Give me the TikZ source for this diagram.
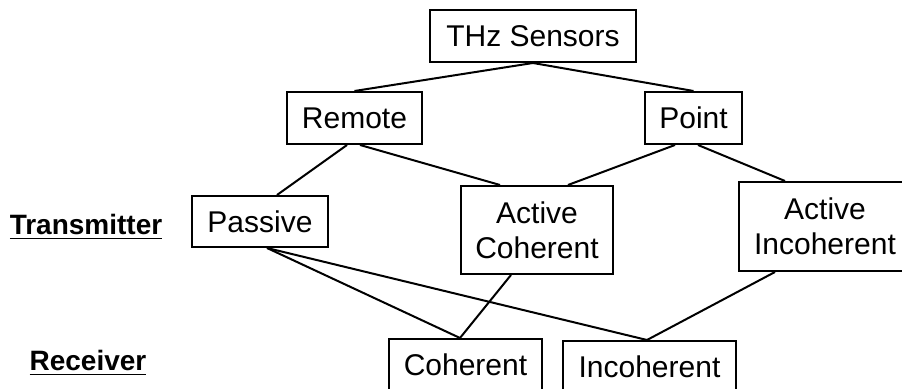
\documentclass[tikz,border=0pt]{standalone}
\usepackage{fontspec}
\setmainfont{Liberation Sans}
\begin{document}
\begin{tikzpicture}[x=0.5pt,y=-0.5pt,
  box/.style={draw=black,line width=1pt,inner sep=0pt,align=center,
    font=\fontsize{15}{17.5}\selectfont},
  link/.style={draw=black,line width=1pt},
  side/.style={anchor=base,inner sep=0pt,font=\fontsize{14}{16}\selectfont\bfseries}]
\useasboundingbox[fill=white] (0,0) rectangle (902,389);
\node[box,minimum width=103pt,minimum height=26pt] (thz) at (533,36) {THz Sensors};
\node[box,minimum width=67.5pt,minimum height=26pt] (remote) at (354.5,118) {Remote};
\node[box,minimum width=48.5pt,minimum height=26pt] (point) at (693.5,118) {Point};
\node[box,minimum width=68pt,minimum height=25.5pt] (passive) at (260,221.5) {Passive};
\node[box,minimum width=76pt,minimum height=44pt] (actcoh) at (537,230) {Active\\Coherent};
\node[box,minimum width=86pt,minimum height=44.5pt] (actinc) at (825,226.5) {Active\\Incoherent};
\node[box,minimum width=76.5pt,minimum height=26pt] (coh) at (465.5,365) {Coherent};
\node[box,minimum width=86.5pt,minimum height=26pt] (inc) at (649.5,367) {Incoherent};
\node[side] (tx) at (86,235) {\underline{Transmitter}};
\node[side] (rx) at (88,371) {\underline{Receiver}};
\draw[link] (thz.south) -- (remote.north);
\draw[link] (thz.south) -- (point.north);
\draw[link] ([xshift=-3.75pt]remote.south) -- ([xshift=8.5pt]passive.north);
\draw[link] ([xshift=2.75pt]remote.south) -- ([xshift=-18.5pt]actcoh.north);
\draw[link] ([xshift=-9.25pt]point.south) -- ([xshift=15.5pt]actcoh.north);
\draw[link] ([xshift=2.25pt]point.south) -- ([xshift=-20pt]actinc.north);
\draw[link] ([xshift=3.5pt]passive.south) -- ([xshift=-2.75pt]coh.north);
\draw[link] ([xshift=3.5pt]passive.south) -- ([xshift=-1.25pt]inc.north);
\draw[link] ([xshift=-13pt]actcoh.south) -- ([xshift=-2.75pt]coh.north);
\draw[link] ([xshift=-25pt]actinc.south) -- ([xshift=-1.25pt]inc.north);
\end{tikzpicture}
\end{document}
